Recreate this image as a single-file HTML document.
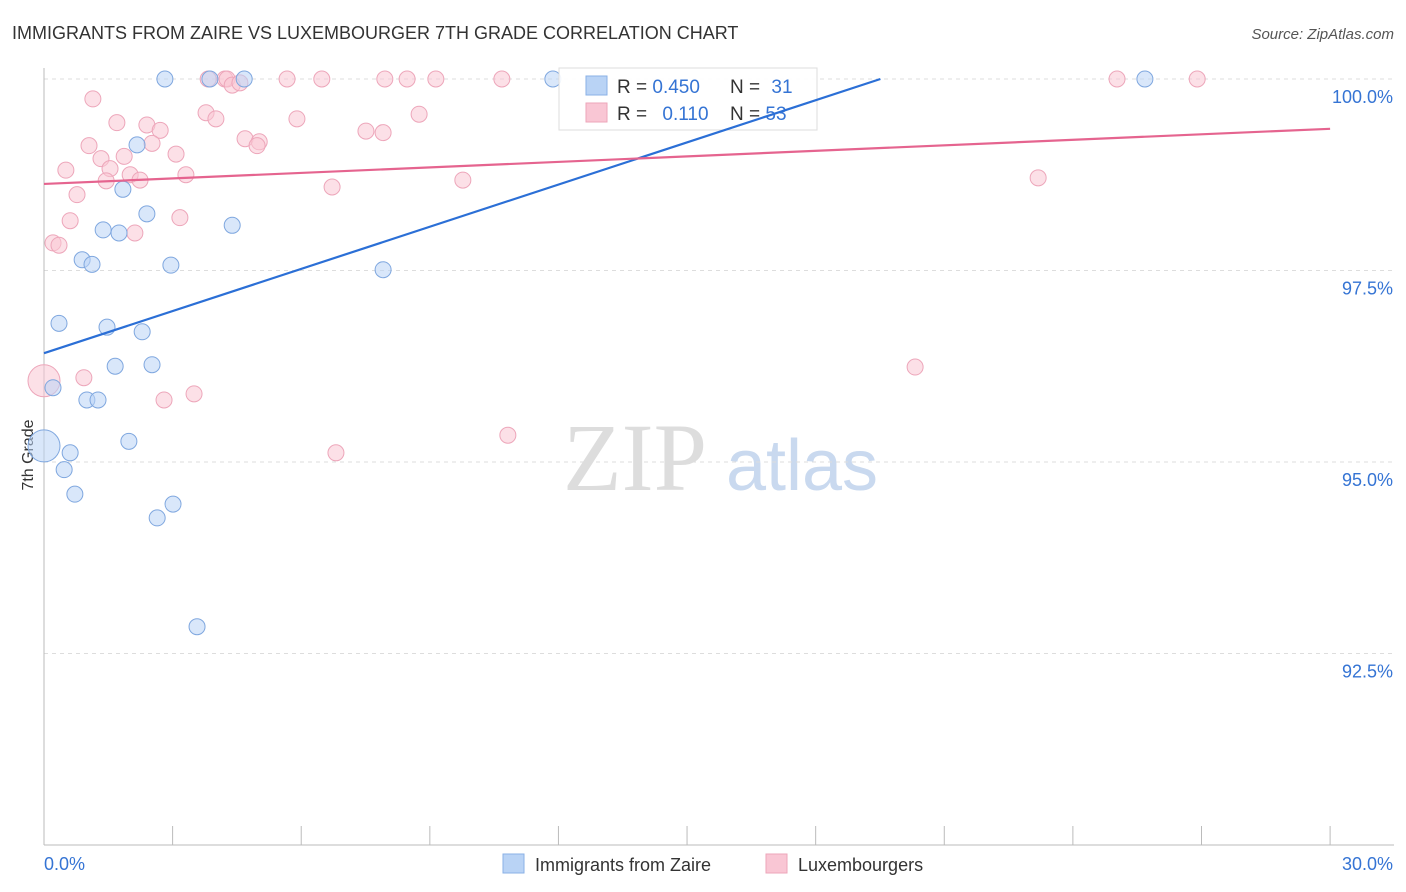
<!DOCTYPE html>
<html><head><meta charset="utf-8"><style>
body{margin:0;background:#fff;font-family:"Liberation Sans",sans-serif;}
svg{display:block}
</style></head><body>
<svg id="chart" width="1406" height="892">
<text x="12" y="39" font-size="18" fill="#333">IMMIGRANTS FROM ZAIRE VS LUXEMBOURGER 7TH GRADE CORRELATION CHART</text>
<text x="1394" y="39" font-size="15" fill="#555" font-style="italic" text-anchor="end">Source: ZipAtlas.com</text>
<text x="33" y="455" font-size="16" fill="#333" text-anchor="middle" transform="rotate(-90 33 455)">7th Grade</text>
<g><text x="635" y="490" font-size="96" fill="#ddd" font-family="Liberation Serif,serif" text-anchor="middle">ZIP</text><text x="802" y="490" font-size="72" fill="#c9d9ef" text-anchor="middle">atlas</text></g>
<g id="grid"></g><g id="axes"></g><g id="marks"></g>
<g>
<rect x="559" y="68" width="258" height="62" fill="#fff" fill-opacity="0.9" stroke="#ddd"/>
<rect x="586" y="76" width="21" height="19" fill="#b9d3f5" stroke="#8ab0e6"/>
<rect x="586" y="103" width="21" height="19" fill="#f9c6d4" stroke="#eda6ba"/>
<text x="617" y="93" font-size="19" fill="#333">R = <tspan fill="#3574d4">0.450</tspan></text>
<text x="730" y="93" font-size="19" fill="#333">N = <tspan fill="#3574d4" dx="6">31</tspan></text>
<text x="617" y="120" font-size="19" fill="#333">R = <tspan fill="#3574d4" dx="10">0.110</tspan></text>
<text x="730" y="120" font-size="19" fill="#333">N = <tspan fill="#3574d4">53</tspan></text>
</g>
<g id="lines"></g>
<g>
<rect x="503" y="854" width="21" height="19" fill="#b9d3f5" stroke="#8ab0e6"/>
<text x="535" y="871" font-size="18" fill="#333">Immigrants from Zaire</text>
<rect x="766" y="854" width="21" height="19" fill="#f9c6d4" stroke="#eda6ba"/>
<text x="798" y="871" font-size="18" fill="#333">Luxembourgers</text>
</g>
</svg>
<script>
const yTicks=[100,97.5,95,92.5];
const yTickLabels=["100.0%","97.5%","95.0%","92.5%"];
const blueX=[2.82,3.87,4.67,11.87,25.68,2.17,1.84,2.40,4.39,1.38,1.75,0.89,1.12,2.96,7.91,0.35,1.47,2.29,1.66,2.52,0.21,1.00,1.26,1.98,0,0.61,0.47,0.72,3.01,2.64,3.57];
const blueY=[100,100,100,100,100,99.14,98.56,98.24,98.09,98.03,97.99,97.64,97.58,97.57,97.51,96.81,96.76,96.70,96.25,96.27,95.97,95.81,95.81,95.27,95.21,95.12,94.90,94.58,94.45,94.27,92.85];
const pinkX=[3.83,4.22,4.27,5.67,6.48,7.95,8.47,9.14,10.68,25.03,26.90,4.39,4.57,1.14,3.78,8.75,4.01,5.90,1.70,2.40,2.71,7.51,7.91,1.05,4.69,5.02,4.97,2.52,3.08,1.87,1.33,0.51,1.54,2.01,3.31,1.45,2.24,9.77,23.19,6.72,0.77,0.61,3.17,2.12,0.21,0.35,0,0.93,3.50,2.80,20.32,10.82,6.81];
const pinkY=[100,100,100,100,100,100,100,100,100,100,100,99.92,99.95,99.74,99.56,99.54,99.48,99.48,99.43,99.40,99.33,99.32,99.30,99.13,99.22,99.18,99.13,99.16,99.02,98.99,98.96,98.81,98.83,98.75,98.75,98.67,98.68,98.68,98.71,98.59,98.49,98.15,98.19,97.99,97.86,97.83,96.06,96.10,95.89,95.81,96.24,95.35,95.12];
const blueLine=[[0,96.42],[19.51,100]];
const pinkLine=[[0,98.63],[30,99.35]];
const X=v=>44+v*42.87, Y=v=>79+(100-v)*76.6;
const NS="http://www.w3.org/2000/svg";
function mk(p,t,a){const e=document.createElementNS(NS,t);for(const k in a)e.setAttribute(k,a[k]);p.appendChild(e);return e;}
const grid=document.getElementById('grid'),axes=document.getElementById('axes'),marks=document.getElementById('marks'),lines=document.getElementById('lines');
yTicks.forEach((v,i)=>{
 const l=mk(grid,'line',{x1:44,x2:1394,y1:Y(v),y2:Y(v),stroke:'#ddd','stroke-dasharray':'4 4'});
 
 
 const t=mk(axes,'text',{x:1393,y:Y(v)+24,'font-size':18,fill:'#3574d4','text-anchor':'end'});t.textContent=yTickLabels[i];
 
 
});
mk(axes,'line',{x1:44,x2:44,y1:68,y2:845,stroke:'#bbb'});
mk(axes,'line',{x1:44,x2:1394,y1:845,y2:845,stroke:'#bbb'});
for(let i=0;i<=10;i++){const tk=mk(axes,'line',{x1:X(i*3),x2:X(i*3),y1:826,y2:845,stroke:'#bbb'});
 
 }
let t0=mk(axes,'text',{x:44,y:870,'font-size':18,fill:'#3574d4'});t0.textContent='0.0%';


let t1=mk(axes,'text',{x:1393,y:870,'font-size':18,fill:'#3574d4','text-anchor':'end'});t1.textContent='30.0%';


function pts(xs,ys,fill,stroke,name){xs.forEach((x,i)=>{const big=(x===0);
 const c=mk(marks,'circle',{cx:X(x),cy:Y(ys[i]),r:big?16:8,fill:fill,'fill-opacity':0.55,stroke:stroke,'stroke-width':1});
 
 });}
pts(pinkX,pinkY,'#f9c6d4','#eda6ba','lux-point');
pts(blueX,blueY,'#b9d3f5','#7fa7df','zaire-point');
const bl=mk(lines,'line',{x1:X(blueLine[0][0]),y1:Y(blueLine[0][1]),x2:X(blueLine[1][0]),y2:Y(blueLine[1][1]),stroke:'#2b6fd6','stroke-width':2.2});


const pl=mk(lines,'line',{x1:X(pinkLine[0][0]),y1:Y(pinkLine[0][1]),x2:X(pinkLine[1][0]),y2:Y(pinkLine[1][1]),stroke:'#e5648f','stroke-width':2.2});


</script>
</body></html>
